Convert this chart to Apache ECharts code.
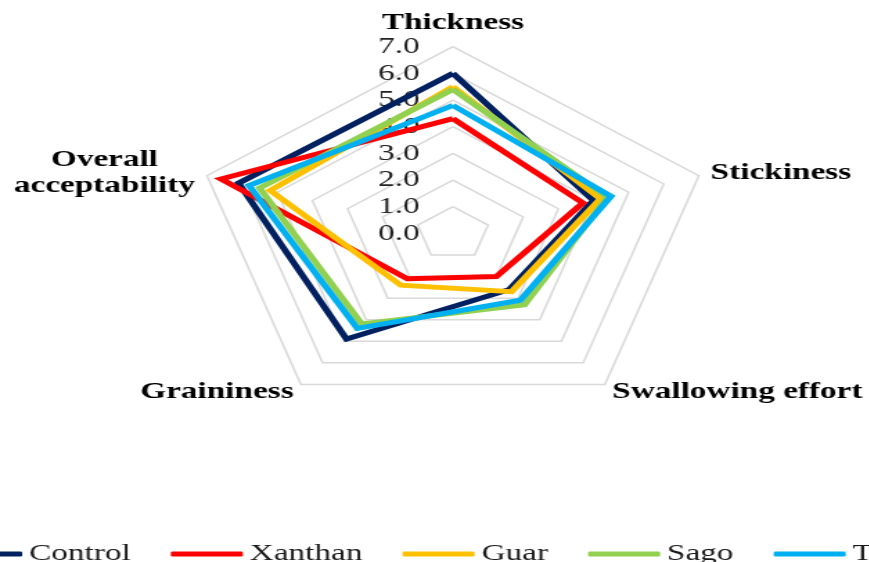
<!DOCTYPE html>
<html>
<head>
<meta charset="utf-8">
<script src="https://cdn.jsdelivr.net/npm/echarts@6/dist/echarts.min.js"></script>
<style>
  html, body { margin: 0; padding: 0; width: 869px; height: 562px; overflow: hidden; background: #fff; }
  /* the chart is laid out narrow and stretched sideways, as in the printed figure */
  #chart { position: absolute; left: 0; top: 0; width: 628px; height: 562px;
           transform: scaleX(1.385); transform-origin: 0 0; }
</style>
</head>
<body>
<div id="chart"></div>
<script>
// Sensory attributes, listed counter-clockwise from the top spoke
const attributes = ['Thickness', 'Overall\nacceptability', 'Graininess', 'Swallowing effort', 'Stickiness'];

// Mean sensory scores per thickener
const control = [6.0, 6.1, 4.9, 2.6, 4.0];
const xanthan = [4.3, 6.6, 2.1, 2.0, 3.7];
const guar    = [5.5, 5.2, 2.4, 2.7, 4.2];
const sago    = [5.4, 5.5, 4.2, 3.3, 4.4];
const tapioca = [4.8, 5.8, 4.4, 3.1, 4.5];

const seriesNames = ['Control', 'Xanthan', 'Guar', 'Sago', 'Tapioca'];
const seriesColors = ['#002060', '#FF0000', '#FFC000', '#92D050', '#00B0F0'];

// Score scale 0.0 – 7.0, one ring per point
const scaleMin = 0;
const scaleMax = 7;
const scaleSteps = 7;

const serif = 'Liberation Serif';

const chart = echarts.init(document.getElementById('chart'));

const indicator = attributes.map((name, i) => ({
  name: name,
  min: scaleMin,
  max: scaleMax,
  // score labels run up the top spoke only
  axisLabel: { show: i === 0 }
}));

const seriesValues = [control, xanthan, guar, sago, tapioca];

chart.setOption({
  animation: false,
  backgroundColor: '#ffffff',
  legend: {
    data: seriesNames,
    left: -41,
    top: 537,
    width: 900,
    icon: 'roundRect',
    itemWidth: 52,
    itemHeight: 5,
    itemGap: 29,
    textStyle: { fontFamily: serif, fontSize: 24, color: '#1a1a1a' }
  },
  radar: {
    center: [327, 233.4],
    radius: 186.7,
    startAngle: 90,
    splitNumber: scaleSteps,
    shape: 'polygon',
    indicator: indicator,
    nameGap: 9,
    axisName: {
      color: '#000',
      fontFamily: serif,
      fontSize: 24,
      fontWeight: 'bold',
      formatter: function (name) {
        if (name.indexOf('\n') >= 0) {
          return name.split('\n').map(s => '{c|' + s + '}').join('\n');
        }
        return name;
      },
      rich: {
        c: {
          width: 131,
          align: 'center',
          lineHeight: 26,
          fontFamily: serif,
          fontSize: 24,
          fontWeight: 'bold',
          color: '#000'
        }
      }
    },
    axisLine: { show: false },
    axisTick: { show: false },
    axisLabel: {
      show: false,
      margin: 24,
      fontFamily: serif,
      fontSize: 24,
      color: '#222',
      formatter: v => Number(v).toFixed(1)
    },
    splitLine: { lineStyle: { color: '#d9d9d9', width: 1.5 } },
    splitArea: { show: false }
  },
  series: [{
    type: 'radar',
    symbol: 'none',
    data: seriesValues.map((vals, i) => ({
      name: seriesNames[i],
      value: vals,
      lineStyle: { color: seriesColors[i], width: 5, join: 'miter' },
      itemStyle: { color: seriesColors[i] }
    }))
  }]
});
</script>
</body>
</html>
